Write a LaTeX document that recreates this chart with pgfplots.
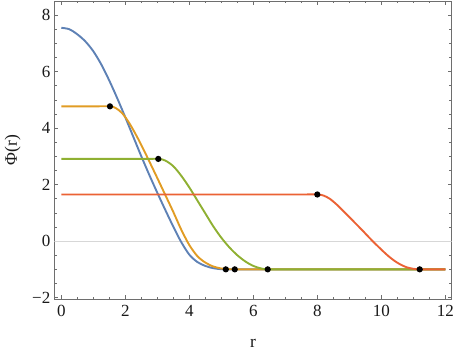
\documentclass[border=0pt]{standalone}
\usepackage{fontspec}
\setmainfont{Liberation Serif}
\usepackage{pgfplots}
\pgfplotsset{compat=1.18}
\usetikzlibrary{calc}
\definecolor{clrBlue}{RGB}{94,129,181}
\definecolor{clrOrange}{RGB}{225,156,36}
\definecolor{clrGreen}{RGB}{143,176,50}
\definecolor{clrRed}{RGB}{235,98,53}
\definecolor{clrFrame}{RGB}{110,110,110}
\definecolor{clrZero}{RGB}{215,215,215}
\definecolor{clrText}{RGB}{25,25,25}

\begin{document}
\begin{tikzpicture}
\begin{axis}[
  scale only axis,
  width=397.4pt, height=298pt,
  xmin=-0.22, xmax=12.2,
  ymin=-2.05, ymax=8.5,
  axis line style={clrFrame, line width=0.7pt},
  xtick={0,2,...,12},
  ytick={-2,0,2,4,6,8},
  yticklabels={−2,0,2,4,6,8},
  minor x tick num=3, minor y tick num=3,
  tick align=inside,
  major tick length=4pt, minor tick length=2.4pt,
  tick style={clrFrame, line width=0.6pt},
  /pgf/number format/assume math mode=true,
  ticklabel style={font=\fontsize{17}{20}\selectfont, text=clrText},
  xticklabel style={yshift=-2.5pt},
  yticklabel style={xshift=-0.5pt},
  label style={font=\fontsize{17.5}{20}\selectfont, text=clrText},
  xlabel={r},
  ylabel={Φ(r)},
  xlabel style={at={(axis description cs:0.5,-0.1644)}, anchor=base},
  ylabel style={at={(axis description cs:-0.0939,0.5)}, anchor=base},
  every axis plot/.append style={line width=1.9pt},
]
% zero line
\addplot[clrZero, line width=0.8pt] coordinates {(-0.22,0) (12.2,0)};

% blue
\addplot[clrBlue, smooth] coordinates {
(0,7.55) (0.25,7.50) (0.5,7.32) (0.75,7.07) (1.0,6.72) (1.25,6.25)
(1.5,5.68) (1.75,5.05) (2.0,4.38) (2.25,3.69) (2.5,3.00) (2.75,2.34)
(3.0,1.71) (3.25,1.10) (3.5,0.51) (3.75,-0.04) (4.0,-0.48) (4.25,-0.74)
(4.5,-0.88) (4.75,-0.96) (5.0,-0.995) (5.14,-1) (6,-1) (8,-1) (10,-1) (12,-1)};

% orange
\addplot[clrOrange, smooth] coordinates {
(0,4.77) (0.5,4.77) (1.0,4.77) (1.52,4.77) (1.7,4.71) (1.9,4.53)
(2.1,4.22) (2.3,3.83) (2.5,3.40) (2.75,2.82) (3.0,2.23) (3.25,1.63)
(3.5,1.03) (3.75,0.40) (4.0,-0.14) (4.25,-0.53) (4.5,-0.76) (4.75,-0.90)
(5.0,-0.97) (5.25,-0.995) (5.42,-1) (6,-1) (8,-1) (10,-1) (12,-1)};

% green
\addplot[clrGreen, smooth] coordinates {
(0,2.91) (1,2.91) (2,2.91) (2.5,2.91) (3.03,2.91) (3.25,2.85) (3.5,2.65)
(3.75,2.31) (4.0,1.90) (4.25,1.44) (4.5,0.98) (4.75,0.52) (5.0,0.12)
(5.25,-0.22) (5.5,-0.50) (5.75,-0.72) (6.0,-0.88) (6.25,-0.97) (6.45,-1)
(7,-1) (8,-1) (10,-1) (12,-1)};

% red
\addplot[clrRed, smooth] coordinates {
(0,1.65) (2,1.65) (4,1.65) (6,1.65) (7,1.65) (7.5,1.65) (8.0,1.65)
(8.2,1.61) (8.4,1.49) (8.6,1.30) (8.8,1.08) (9.0,0.85) (9.2,0.62)
(9.4,0.39) (9.6,0.15) (9.8,-0.08) (10.0,-0.30) (10.2,-0.51) (10.4,-0.69)
(10.6,-0.83) (10.8,-0.93) (11.0,-0.98) (11.2,-1) (11.6,-1) (12,-1)};

% junction points
\addplot[only marks, mark=*, mark size=2.1pt, black] coordinates {
(5.14,-1) (1.52,4.77) (5.42,-1) (3.03,2.91) (6.45,-1) (8.0,1.65) (11.2,-1)};
\end{axis}
\pgfresetboundingbox
\useasboundingbox ($(current axis.south west)+(-54.3pt,-55pt)$)
  rectangle ($(current axis.north east)+(3.3pt,1pt)$);
\end{tikzpicture}
\end{document}
